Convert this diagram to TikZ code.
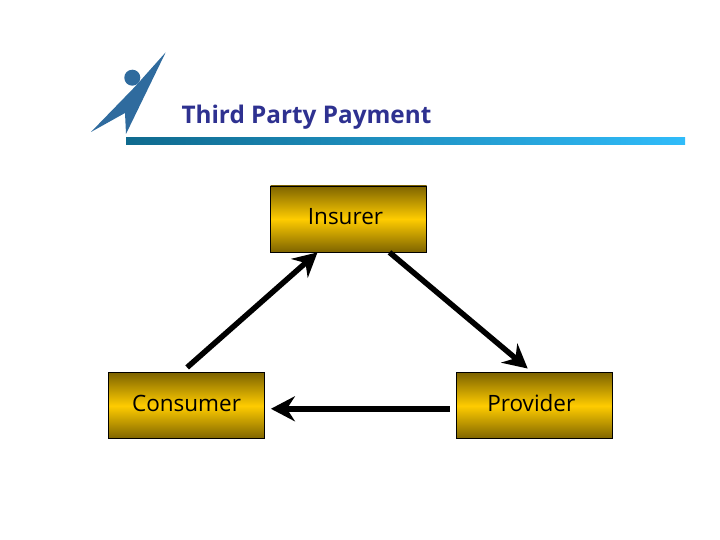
\documentclass[tikz,border=0pt]{standalone}
\usepackage{fontspec}
\setmainfont{Open Sans}
\usetikzlibrary{arrows.meta, positioning, calc}
\definecolor{logoblue}{HTML}{2F6B9E}
\definecolor{titleblue}{HTML}{2E3190}
\definecolor{golddark}{HTML}{7E6400}
\definecolor{goldlight}{HTML}{FFCC00}
\definecolor{barleft}{HTML}{0F6A8E}
\definecolor{barright}{HTML}{30BCFA}
\tikzset{
    party/.style={rectangle, draw=black, line width=0.8pt, top color=golddark, bottom color=golddark, middle color=goldlight, minimum width=156pt, minimum height=66pt, inner sep=0pt, align=center, font=\fontsize{22.5}{26}\selectfont, text=black, text height=16pt, text depth=4pt},
    flow/.style={line width=5.5pt, -{Stealth[length=24pt, width=25pt, inset=8pt]}},
    titlebar/.style={rectangle, left color=barleft, right color=barright, minimum width=559pt, minimum height=7pt, inner sep=0pt}
}

\begin{document}
\begin{tikzpicture}[x=1pt, y=1pt]
    \useasboundingbox (0,0) rectangle (720,540);

    % logo
    \fill[logoblue] (165.7,487.7) -- (126,406) -- (125,427) -- (91,408) -- (135,453.3) -- cycle;
    \fill[logoblue] (132.3,462.3) circle (8);

    \node[anchor=west, font=\bfseries\fontsize{24.3}{28}\selectfont, text=titleblue] (title) at (178,423) {Third Party Payment};
    \node[titlebar, anchor=west] (bar) at (126,398.5) {};

    \node[party] (insurer) at (348.5,321) {Insurer\kern6pt};
    \node[party, below=120pt of insurer, xshift=-162pt] (consumer) {Consumer};
    \node[party, right=191pt of consumer] (provider) {Provider\kern6pt};

    \draw[flow, shorten <=7.5pt] ([xshift=-5pt]consumer.north) -- ([xshift=-31pt]insurer.south);
    \draw[flow, shorten >=6pt] ([xshift=41pt]insurer.south) -- ([xshift=-2pt]provider.north);
    \draw[flow, shorten <=6pt, shorten >=6pt] ([yshift=-3pt]provider.west) -- ([yshift=-3pt]consumer.east);
\end{tikzpicture}
\end{document}
